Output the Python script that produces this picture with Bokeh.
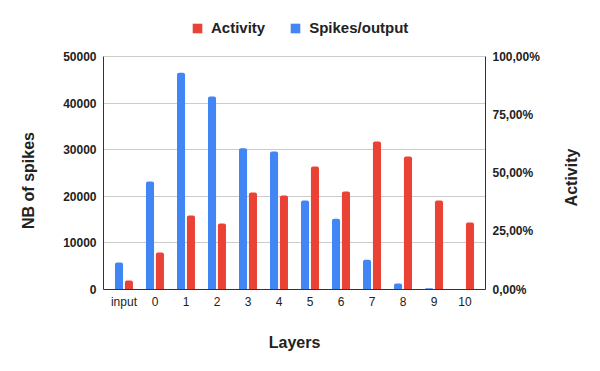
import math
from bokeh.plotting import figure
from bokeh.layouts import row
from bokeh.models import (ColumnDataSource, FactorRange, Range1d, LinearAxis, FixedTicker,
                          Legend, LegendItem, Label)
from bokeh.transform import dodge
from bokeh.embed import file_html
from bokeh.resources import INLINE

layers = ["input", "0", "1", "2", "3", "4", "5", "6", "7", "8", "9", "10"]
spikes = [5800, 23200, 46500, 41400, 30300, 29600, 19100, 15200, 6400, 1300, 250, 0]
activity = [0.039, 0.159, 0.318, 0.283, 0.416, 0.403, 0.528, 0.421, 0.635, 0.571, 0.382, 0.288]
left_ticks = [0, 10000, 20000, 30000, 40000, 50000]
left_tick_labels = ["0", "10000", "20000", "30000", "40000", "50000"]
right_ticks = [0, 0.25, 0.5, 0.75, 1.0]
right_tick_labels = ["0,00%", "25,00%", "50,00%", "75,00%", "100,00%"]
LEFT_MAX = 50000
RIGHT_MAX = 1.0
left_title = "NB of spikes"
right_title = "Activity"
x_title = "Layers"

BLUE = "#4285F4"
RED = "#EA4335"
FONT = "Liberation Sans"
TXT = "#222222"

# layout (pixels)
H = 371
SIDE_L, MAIN_W, SIDE_R = 50, 500, 50
FRAME_TOP, AXIS_TOP, FRAME_BOTTOM = 8, 56, 289
FRAME_LEFT, FRAME_RIGHT = 103, 485
stretch = (FRAME_BOTTOM - FRAME_TOP) / (FRAME_BOTTOM - AXIS_TOP)


def side_fig(w, text, cx, cy):
    # the row aligns frames, so the side frame spans FRAME_TOP..FRAME_BOTTOM;
    # pick the y range so that data y == H - screen y
    f = figure(width=w, height=H, output_backend="svg", toolbar_location=None,
               x_range=Range1d(0, w), y_range=Range1d(H - FRAME_BOTTOM, H - FRAME_TOP),
               x_axis_location=None, y_axis_location=None, min_border=0)
    f.outline_line_color = None
    f.grid.visible = False
    f.add_layout(Label(x=cx, y=H - cy, text=text, angle=math.pi / 2,
                       text_align="center", text_baseline="middle", text_font=FONT,
                       text_font_size="16px", text_font_style="bold", text_color=TXT))
    return f


src = ColumnDataSource(dict(layer=layers, spikes=spikes, activity=activity))

p = figure(width=MAIN_W, height=H, output_backend="svg", toolbar_location=None,
           x_range=FactorRange(*layers, range_padding=0.16, range_padding_units="absolute"),
           y_range=Range1d(0, LEFT_MAX * stretch),
           min_border_left=FRAME_LEFT - SIDE_L, min_border_right=SIDE_L + MAIN_W - FRAME_RIGHT,
           min_border_top=FRAME_TOP, min_border_bottom=H - FRAME_BOTTOM)
p.extra_y_ranges = {"act": Range1d(0, RIGHT_MAX * stretch)}
p.outline_line_color = None
p.xgrid.grid_line_color = None
p.ygrid.grid_line_color = "#cccccc"
p.ygrid.ticker = FixedTicker(ticks=left_ticks)

rb = p.vbar(x=dodge("layer", -0.16, range=p.x_range), top="spikes", width=0.26, source=src,
            fill_color=BLUE, line_color=None, border_radius=(2, 2, 0, 0))
rr = p.vbar(x=dodge("layer", 0.16, range=p.x_range), top="activity", width=0.26, source=src,
            fill_color=RED, line_color=None, y_range_name="act", border_radius=(2, 2, 0, 0))

ya = p.yaxis[0]
ya.ticker = FixedTicker(ticks=left_ticks)
ya.bounds = (0, LEFT_MAX)
ya.major_label_overrides = {t: l for t, l in zip(left_ticks, left_tick_labels)}
ya.major_label_standoff = 7

ra = LinearAxis(y_range_name="act", ticker=FixedTicker(ticks=right_ticks), bounds=(0, RIGHT_MAX))
ra.major_label_overrides = {t: l for t, l in zip(right_ticks, right_tick_labels)}
ra.major_label_standoff = 7
p.add_layout(ra, "right")

xa = p.xaxis[0]
xa.axis_label = x_title
xa.major_label_standoff = 5
xa.axis_label_standoff = 22
xa.major_label_text_font_size = "12px"
xa.major_label_text_font_style = "normal"

for ax in (ya, ra, xa):
    ax.major_tick_line_color = None
    ax.minor_tick_line_color = None
    ax.major_tick_out = 0
    ax.major_tick_in = 0
    ax.minor_tick_out = 0
    ax.minor_tick_in = 0
    ax.axis_line_color = "#333333"
    ax.major_label_text_font = FONT
    ax.major_label_text_color = TXT
    ax.axis_label_text_font = FONT
    ax.axis_label_text_font_size = "16px"
    ax.axis_label_text_font_style = "bold"
    ax.axis_label_text_color = TXT
for ax in (ya, ra):
    ax.major_label_text_font_size = "12px"
    ax.major_label_text_font_style = "bold"

legend = Legend(items=[LegendItem(label="Activity", renderers=[rr]),
                       LegendItem(label="Spikes/output", renderers=[rb])],
                orientation="horizontal", location=(88, 253),
                label_text_font=FONT, label_text_font_size="15px", label_text_font_style="bold",
                label_text_color=TXT, glyph_width=12, glyph_height=12, label_standoff=8,
                spacing=24, border_line_color=None, background_fill_alpha=0,
                padding=0, margin=0)
p.add_layout(legend, "center")

left_fig = side_fig(SIDE_L, left_title, 28, 180)
right_fig = side_fig(SIDE_R, right_title, 571 - SIDE_L - MAIN_W, 177)

layout = row(left_fig, p, right_fig, spacing=0)
open("out.html", "w").write(file_html(layout, INLINE))
